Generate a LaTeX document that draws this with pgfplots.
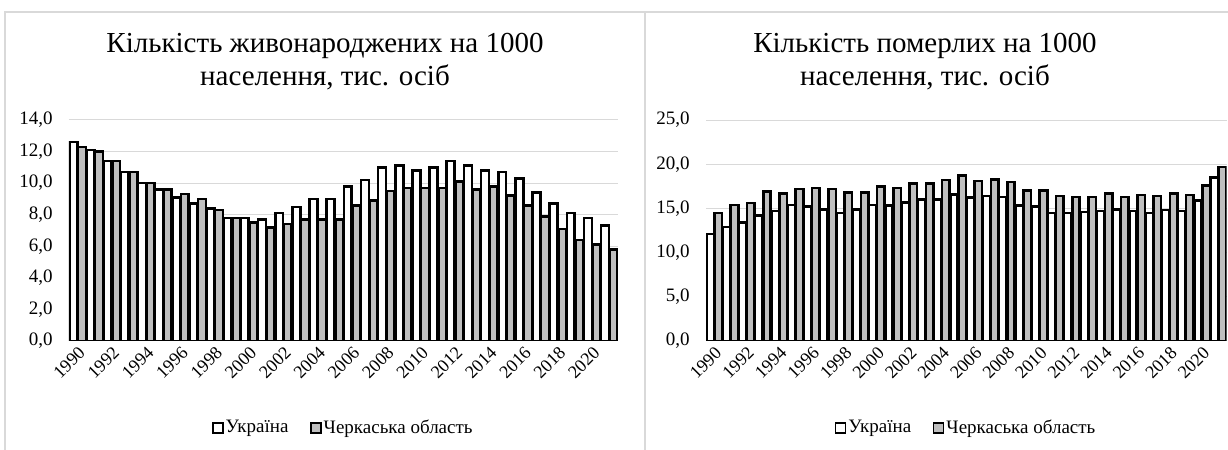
\documentclass[border=0pt]{standalone}
\usepackage{fontspec}
\setmainfont{Liberation Serif}
\usepackage{pgfplots}
\usepackage{pgfplotstable}
\pgfplotsset{compat=1.18}
\definecolor{barg}{HTML}{BFBFBF}
\definecolor{gridc}{HTML}{D9D9D9}
\definecolor{framec}{HTML}{D9D9D9}

\pgfplotstableread{
i ua ch
0 12.6 12.3
1 12.1 12.0
2 11.4 11.4
3 10.7 10.7
4 10.0 10.0
5 9.6 9.6
6 9.1 9.3
7 8.7 9.0
8 8.4 8.3
9 7.8 7.8
10 7.8 7.5
11 7.7 7.2
12 8.1 7.4
13 8.5 7.7
14 9.0 7.7
15 9.0 7.7
16 9.8 8.6
17 10.2 8.9
18 11.0 9.5
19 11.1 9.7
20 10.8 9.7
21 11.0 9.7
22 11.4 10.1
23 11.1 9.6
24 10.8 9.8
25 10.7 9.2
26 10.3 8.6
27 9.4 7.9
28 8.7 7.1
29 8.1 6.4
30 7.8 6.1
31 7.3 5.8
}\births

\pgfplotstableread{
i ua ch
0 12.1 14.5
1 12.9 15.4
2 13.4 15.6
3 14.2 16.9
4 14.7 16.7
5 15.4 17.2
6 15.2 17.3
7 14.9 17.2
8 14.5 16.8
9 14.9 16.8
10 15.4 17.5
11 15.3 17.3
12 15.7 17.8
13 16.0 17.8
14 16.0 18.2
15 16.6 18.7
16 16.2 18.1
17 16.4 18.3
18 16.3 18.0
19 15.3 17.0
20 15.2 17.0
21 14.5 16.4
22 14.5 16.3
23 14.6 16.3
24 14.7 16.7
25 14.9 16.3
26 14.7 16.5
27 14.5 16.4
28 14.8 16.7
29 14.7 16.5
30 15.9 17.6
31 18.5 19.7
}\deaths

\pgfplotsset{
  mybar/.style={
    scale only axis,
    height=110.5pt,
    ybar, bar width=0.46,
    xmin=-0.5, xmax=31.5, ymin=0,
    enlarge x limits=false,
    xtick={0,2,...,30},
    xticklabels={1990,1992,1994,1996,1998,2000,2002,2004,2006,2008,2010,2012,2014,2016,2018,2020},
    x tick label style={rotate=45, anchor=north east, font=\fontsize{9}{10}\selectfont, inner sep=1.5pt},
    y tick label style={font=\fontsize{9.5}{11}\selectfont, inner sep=0pt, xshift=-8pt},
    major tick length=0pt,
    ymajorgrids, grid style={gridc, line width=0.5pt},
    separate axis lines,
    axis x line*=bottom, axis y line*=left,
    x axis line style={gridc, line width=0.5pt},
    y axis line style={draw=none},
    /pgf/number format/fixed,
    /pgf/number format/fixed zerofill,
    /pgf/number format/precision=1,
    /pgf/number format/use comma,
    /pgf/number format/assume math mode=true,
    legend columns=2,
    legend style={draw=none, fill=none, at={(0.5,-0.394)}, anchor=center,
      font=\fontsize{9.5}{11}\selectfont,
      nodes={inner sep=1pt},
      /tikz/every even column/.append style={column sep=10pt}},
    legend image code/.code={\draw[##1, line width=0.6pt] (0pt,-2.5pt) rectangle (5pt,2.5pt);},
  },
  uastyle/.style={fill=white, draw=black, line width=1.3pt, line join=miter, bar shift=-0.25},
  chstyle/.style={fill=barg, draw=black, line width=1.3pt, line join=miter, bar shift=0.25},
}

\begin{document}
\begin{tikzpicture}
\path[use as bounding box] (0pt,0pt) rectangle (614pt,225pt);
\begin{scope}
\clip (0pt,0pt) rectangle (614pt,225pt);
\draw[framec, line width=0.6pt] (2.5pt,219pt) rectangle (322.5pt,-10pt);
\draw[framec, line width=0.6pt] (322.5pt,-10pt) -- (322.5pt,219pt) -- (630pt,219pt);
\end{scope}

\node[align=center, font=\fontsize{14.5}{16.5}\selectfont] at (162.5pt,194.25pt)
  {Кількість живонароджених на 1000\\населення, тис. осіб};
\node[align=center, font=\fontsize{14.5}{16.5}\selectfont] at (462.5pt,194.25pt)
  {Кількість померлих на 1000\\населення, тис. осіб};

\begin{axis}[mybar, at={(34.5pt,54.5pt)}, anchor=south west, width=274.5pt,
  ymax=14, ytick={0,2,...,14}]
\addplot[uastyle] table[x=i,y=ua]{\births};
\addplot[chstyle] table[x=i,y=ch]{\births};
\legend{Україна, Черкаська область}
\end{axis}

\begin{axis}[mybar, at={(353pt,54.5pt)}, anchor=south west, width=260.25pt,
  ymax=25, ytick={0,5,...,25}]
\addplot[uastyle] table[x=i,y=ua]{\deaths};
\addplot[chstyle] table[x=i,y=ch]{\deaths};
\legend{Україна, Черкаська область}
\end{axis}
\end{tikzpicture}
\end{document}
